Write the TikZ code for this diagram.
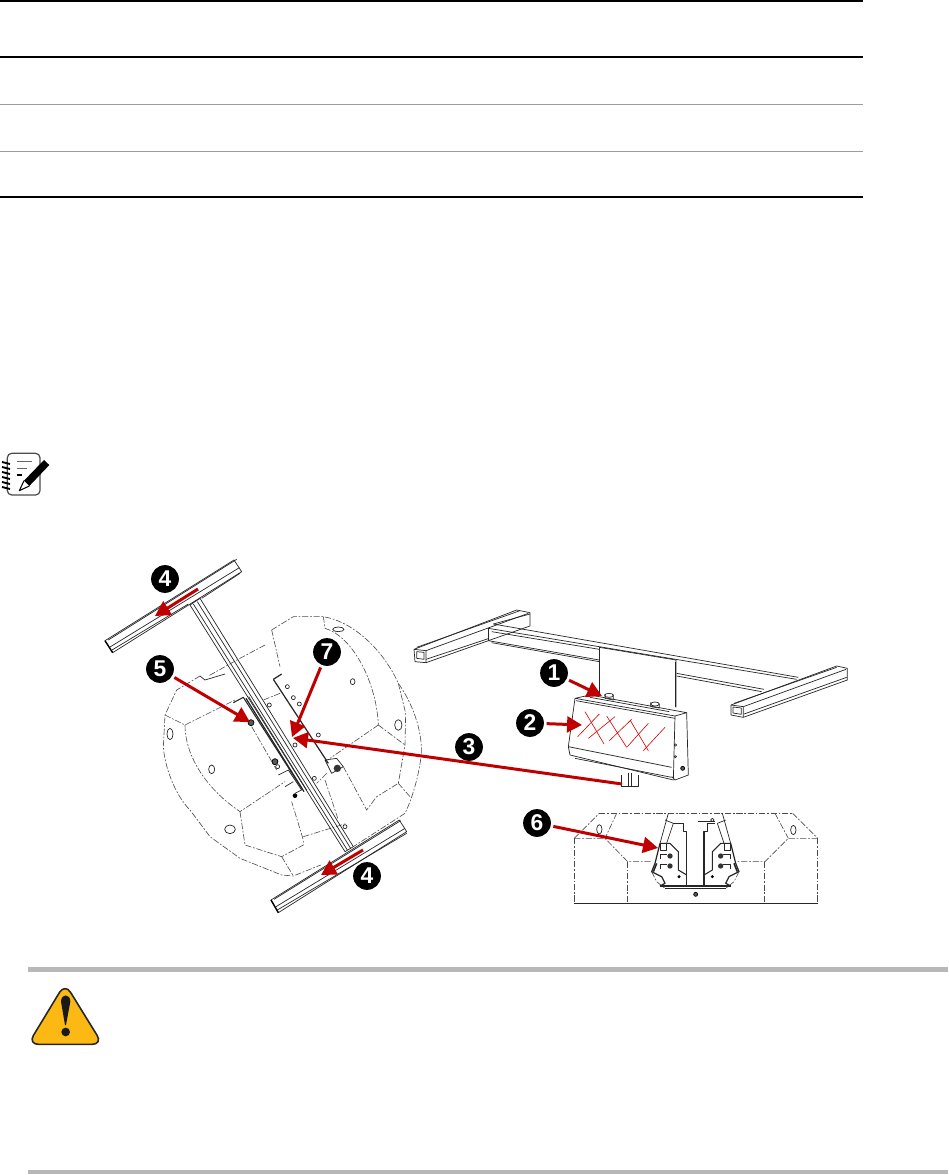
\documentclass[tikz,border=0pt]{standalone}
\usepackage{fontspec}
\setmainfont{Liberation Sans}
\usetikzlibrary{arrows.meta}
\definecolor{callred}{RGB}{192,0,0}
\definecolor{warnamber}{RGB}{253,185,19}
\begin{document}
\begin{tikzpicture}[x=0.02cm, y=-0.02cm,
  badge/.style={circle,fill=black,text=white,font=\bfseries\fontsize{13}{13}\selectfont,minimum size=15.8pt,inner sep=0pt,outer sep=1.6pt},
  callout/.style={draw=callred,line width=1.7pt,-{Triangle[length=8.5pt,width=9pt]}},
  art/.style={draw=black!85,line width=0.4pt,line join=round},
  seat/.style={draw=black!70,line width=0.35pt,dash pattern=on 3.5pt off 1pt on 1pt off 1pt},
  bolt/.style={draw=black,fill=black!65,line width=0.4pt},
  scribble/.style={draw=red!85!black,line width=0.35pt},
  leftview/.style={shift={(90,550)},scale=0.33333},
  rightview/.style={shift={(400,590)},scale=0.33333},
  bracketview/.style={shift={(620,800)},scale=0.33333},
  hrule/.style={draw=black,line width=0.85pt},
  grule/.style={draw=black!38,line width=0.5pt},
  barrule/.style={draw=black!28,line width=2.8pt}]
\useasboundingbox (0,0) rectangle (948,1175);

% table rules
\coordinate (t0l) at (0,1);     \coordinate (t0r) at (863,1);
\coordinate (t1l) at (0,57);    \coordinate (t1r) at (863,57);
\coordinate (t2l) at (0,104);   \coordinate (t2r) at (863,104);
\coordinate (t3l) at (0,151);   \coordinate (t3r) at (863,151);
\coordinate (t4l) at (0,197);   \coordinate (t4r) at (863,197);
\draw[hrule] (t0l) -- (t0r);
\draw[hrule] (t1l) -- (t1r);
\draw[grule] (t2l) -- (t2r);
\draw[grule] (t3l) -- (t3r);
\draw[hrule] (t4l) -- (t4r);

% note icon
\begin{scope}[shift={(0,440)},scale=0.33333]
\draw[black!70,line width=0.7pt,rounded corners=2.5pt] (22,40) rectangle (120,165);
\foreach \yy in {70,85,100,115,130,145} {
  \draw[black,line width=1.1pt] (6,\yy-4) -- (30,\yy+2);
}
\draw[black!60,line width=0.7pt] (50,65) -- (95,65);
\draw[black!60,line width=0.7pt] (50,85) -- (80,85);
\draw[black,line width=0.7pt] (50,105) -- (65,105);
\fill[black] (72,122) -- (132,60) -- (148,75) -- (88,138) -- cycle;
\draw[black,line width=0.6pt,line join=round] (72,122) -- (58,152) -- (88,138);
\end{scope}

% warning icon
\begin{scope}[shift={(0,950)},scale=0.33333]
\draw[draw=black!85,fill=warnamber,line width=0.9pt,rounded corners=6pt] (195,100) -- (308,283) -- (84,283) -- cycle;
\fill[black!90] (183,155) .. controls (183,130) and (211,130) .. (211,155) -- (198,225) -- (195,225) -- cycle;
\fill[black!90] (197,246) circle (13);
\end{scope}

\draw[barrule] (28,969.5) -- (948,969.5);
\draw[barrule] (28,1172) -- (948,1172);

% seat seen from below
\begin{scope}[leftview]
\draw[seat] (545,240) -- (610,200) -- (700,200) .. controls (790,215) and (880,300) .. (925,400) .. controls (975,470) and (1000,560) .. (993,620) .. controls (985,690) and (960,760) .. (945,790) -- (790,890);
\draw[seat] (525,285) -- (450,325) -- (355,378);
\draw[seat] (330,378) -- (260,420) -- (225,495) -- (220,590) .. controls (225,660) and (260,740) .. (300,780) -- (360,860) -- (450,925) -- (575,975) -- (610,978) -- (692,945);
\draw[seat] (225,495) -- (285,525) -- (375,480) -- (435,450);
\draw[seat] (285,525) .. controls (285,610) and (340,710) .. (450,785) -- (585,695);
\draw[seat] (450,785) -- (465,885) -- (575,920) -- (640,885) -- (640,870) -- (605,755);
\draw[seat] (575,920) -- (610,978);
\draw[seat] (545,240) -- (570,350);
\draw[seat] (700,200) -- (705,235) .. controls (790,260) and (860,400) .. (865,525);
\draw[seat] (865,525) -- (945,585);
\draw[seat] (865,525) -- (720,625);
\draw[seat] (925,400) -- (947,490) -- (945,585) -- (925,700) -- (860,740);
\draw[seat] (925,700) -- (960,740);
\draw[seat] (760,650) -- (830,780) -- (860,740);
\draw[seat] (705,690) -- (745,810);
\draw[seat] (570,430) -- (520,450);
\draw[seat] (710,670) -- (680,700);
\draw[seat] (485,530) -- (560,660);
\draw[seat] (640,860) -- (770,820);
\draw[art] (745,238) ellipse (17 and 7);
\draw[art] (788,395) ellipse (7 and 9);
\draw[art] (925,525) ellipse (11 and 16);
\draw[art] (240,552) ellipse (9 and 17);
\draw[art] (365,658) ellipse (9 and 13);
\draw[art] (420,838) ellipse (16 and 13);
% brackets
\draw[art,line width=0.7pt] (550,388) -- (575,372);
\draw[art,line width=0.7pt] (550,388) -- (715,640);
\draw[art] (705,630) -- (740,625) -- (760,650) -- (725,670) -- cycle;
\draw[art] (330,378) -- (345,390) -- (405,372);
\draw[art,line width=0.6pt] (430,458) -- (460,442) -- (635,715);
\draw[art] (565,675) -- (595,660) -- (635,720) -- (615,730);
\draw[art] (585,710) -- (610,695);
\fill[black!80] (742,655) circle (11);
\draw[bolt] (483,518) circle (9);
\draw[bolt] (555,635) circle (9);
\fill[black] (615,737) circle (7);
\foreach \hx/\hy in {615/585,563/650,673/685,685/555,538/465,610/443,592/410,628/462,765/830} {
  \draw[art] (\hx,\hy) circle (6);
}
% top bar
\draw[art] (45,272) -- (432,30) -- (455,65) -- (68,308) -- cycle;
\draw[art] (55,270) -- (440,28);
\draw[art] (60,291) -- (448,53);
\draw[art] (66,300) -- (295,162);
\draw[art] (335,145) -- (450,70);
\draw[black,line width=0.8pt] (45,272) -- (68,308);
% bottom bar
\draw[art] (543,1050) -- (928,810) -- (950,845) -- (565,1088) -- cycle;
\draw[art] (552,1048) -- (932,812);
\draw[art] (558,1070) -- (945,835);
\draw[art] (562,1080) -- (950,850);
\draw[black,line width=0.8pt] (543,1050) -- (565,1088);
% long beam
\draw[art] (300,165) -- (330,145) -- (790,890) -- (765,905) -- cycle;
\draw[art] (322,155) -- (782,895);
\draw[art] (310,162) -- (772,900);
\draw[art,line width=0.7pt] (468,445) -- (642,725);
\draw[art] (476,440) -- (650,720);
\end{scope}

% frame with box
\begin{scope}[rightview]
\draw[art] (42,178) -- (350,60) -- (390,68) -- (390,108) -- (265,152);
\draw[art] (265,152) -- (78,218) -- (45,215) -- (42,178);
\draw[art] (42,178) -- (78,182) -- (78,218);
\draw[art] (50,185) -- (72,187) -- (72,208) -- (50,205) -- cycle;
\draw[art] (78,182) -- (385,70);
\draw[art] (50,172) -- (360,62);
\draw[art] (78,208) -- (265,146);
\draw[art] (280,102) -- (390,72);
\draw[art] (265,115) -- (265,152);
\draw[art] (265,115) -- (1190,268);
\draw[art] (280,102) -- (1195,262);
\draw[art] (275,125) -- (598,178);
\draw[art] (265,152) -- (598,210);
\draw[art] (275,158) -- (598,215);
\draw[art] (830,250) -- (1092,298);
\draw[art] (830,258) -- (1085,305);
\draw[art] (993,345) -- (1310,228) -- (1342,235) -- (1342,270) -- (1030,382) -- (993,375) -- cycle;
\draw[art] (993,345) -- (1030,350) -- (1030,382);
\draw[art] (999,351) -- (1024,354) -- (1024,373) -- (999,369) -- cycle;
\draw[art] (1030,350) -- (1338,238);
\draw[art] (1002,340) -- (1310,232);
\draw[art] (1032,372) -- (1340,262);
% panel
\draw[art] (598,172) -- (828,210) -- (828,352);
\draw[art] (598,172) -- (598,315);
\draw[art] (825,215) -- (825,350);
% box
\draw[art] (525,325) -- (570,315) -- (860,368) -- (825,378) -- cycle;
\draw[art] (570,322) -- (808,365);
\draw[art] (525,325) -- (505,470) -- (510,495) -- (820,570) -- (825,378);
\draw[art] (860,368) -- (865,555) -- (825,570) -- (815,560);
\draw[art] (505,470) -- (815,532);
\draw[art] (525,505) -- (815,562);
\draw[art] (528,332) -- (825,385);
\draw[art] (615,312) -- (615,325) -- (640,330) -- (640,314);
\draw[art] (627,316) ellipse (13 and 6);
\draw[art] (752,337) -- (752,350) -- (778,354) -- (778,342);
\draw[art] (765,342) ellipse (13 and 6);
\draw[art] (826,465) circle (3.5);
\draw[art] (826,500) circle (3.5);
\draw[bolt] (848,535) circle (6);
\draw[art] (665,555) -- (665,588) -- (715,588) -- (715,555);
\draw[art] (685,548) -- (685,588);
\draw[art] (695,550) -- (695,588);
% scribble
\draw[scribble] (533,440) -- (598,372);
\draw[scribble] (555,365) -- (612,462);
\draw[scribble] (565,445) -- (645,380);
\draw[scribble] (620,378) -- (680,472);
\draw[scribble] (628,452) -- (695,388);
\draw[scribble] (690,390) -- (745,482);
\draw[scribble] (682,470) -- (745,400);
\draw[scribble] (730,482) -- (795,412);
% bottom view
\draw[seat] (523,745) -- (523,940);
\draw[seat] (1253,745) -- (1253,940);
\draw[art] (523,940) -- (1253,940);
\draw[seat] (598,670) -- (1178,670);
\draw[seat] (523,745) -- (598,670);
\draw[seat] (1178,670) -- (1253,745);
\draw[seat] (523,745) -- (615,745) -- (683,815) -- (755,815);
\draw[seat] (1253,745) -- (1165,745) -- (1095,815) -- (1010,815);
\draw[seat] (683,815) -- (683,940);
\draw[seat] (1093,815) -- (1093,940);
\draw[seat] (650,670) -- (615,745);
\draw[seat] (1125,670) -- (1165,745);
\draw[art] (598,718) ellipse (8 and 14);
\draw[art] (1180,720) ellipse (8 and 14);
\end{scope}

% brackets of the bottom view
\begin{scope}[bracketview]
\draw[art] (145,40) -- (120,130);
\draw[art] (160,70) -- (140,130);
\draw[art] (135,60) -- (160,70);
\draw[art,line width=0.6pt] (160,70) -- (190,70) -- (190,95) -- (200,95) -- (200,255);
\draw[art,line width=0.6pt] (120,130) -- (150,130) -- (175,155) -- (175,210) -- (200,225);
\draw[art,line width=0.7pt] (120,130) -- (105,190) -- (95,215) -- (125,230) -- (135,250) -- (120,258);
\draw[art,line width=0.9pt] (110,190) -- (100,215);
\draw[art] (122,130) rectangle (140,150);
\draw[art] (120,178) -- (120,162) -- (142,162);
\draw[art] (120,208) -- (120,193) -- (142,193);
\draw[seat] (95,215) -- (110,245) -- (135,265);
\draw[art] (307,40) -- (332,130);
\draw[art] (292,70) -- (312,130);
\draw[art] (317,60) -- (292,70);
\draw[art,line width=0.6pt] (285,70) -- (262,70) -- (262,95) -- (252,95) -- (252,255);
\draw[art,line width=0.6pt] (332,130) -- (302,130) -- (277,155) -- (277,210) -- (252,225);
\draw[art,line width=0.7pt] (332,130) -- (347,190) -- (357,215) -- (327,230) -- (317,250) -- (332,258);
\draw[art,line width=0.9pt] (342,190) -- (352,215);
\draw[art] (312,130) rectangle (330,150);
\draw[art] (332,178) -- (332,162) -- (310,162);
\draw[art] (332,208) -- (332,193) -- (310,193);
\draw[seat] (357,215) -- (342,245) -- (317,265);
\draw[art,line width=0.9pt] (235,65) -- (285,65);
\draw[art] (277,60) circle (5);
\draw[art,line width=0.6pt] (120,258) -- (332,258);
\draw[art] (135,265) -- (317,265);
\foreach \hx/\hy in {150/168,150/198,302/168,302/198} {
  \fill[black!80] (\hx,\hy) circle (8);
}
\fill[black] (177,230) circle (5);
\fill[black] (277,230) circle (5);
\draw[bolt] (227,283) circle (6);
\end{scope}

% callouts
\node[badge] at (165,579)(num4a) {4};
\node[badge] at (160,669)(num5) {5};
\node[badge] at (327,652)(num7) {7};
\node[badge] at (367,876)(num4b) {4};
\node[badge] at (554,673)(num1) {1};
\node[badge] at (530,723)(num2) {2};
\node[badge] at (469,747)(num3) {3};
\node[badge] at (537,823)(num6) {6};

\coordinate (tip5) at (250,722);
\coordinate (tip7) at (292,737);
\coordinate (tip1) at (602,696);
\coordinate (tip2) at (582,725);
\coordinate (tip6) at (658,848);
\coordinate (from4a) at (198,589);
\coordinate (tip4a) at (155,616);
\coordinate (from4b) at (363,850);
\coordinate (tip4b) at (321,875);
\coordinate (from3) at (622,784);
\coordinate (tip3) at (293,738);

\draw[callout] (num5) -- (tip5);
\draw[callout] (num7) -- (tip7);
\draw[callout] (num1) -- (tip1);
\draw[callout] (num2) -- (tip2);
\draw[callout] (num6) -- (tip6);
\draw[callout] (from4a) -- (tip4a);
\draw[callout] (from4b) -- (tip4b);
\draw[callout] (from3) -- (tip3);

\end{tikzpicture}
\end{document}
